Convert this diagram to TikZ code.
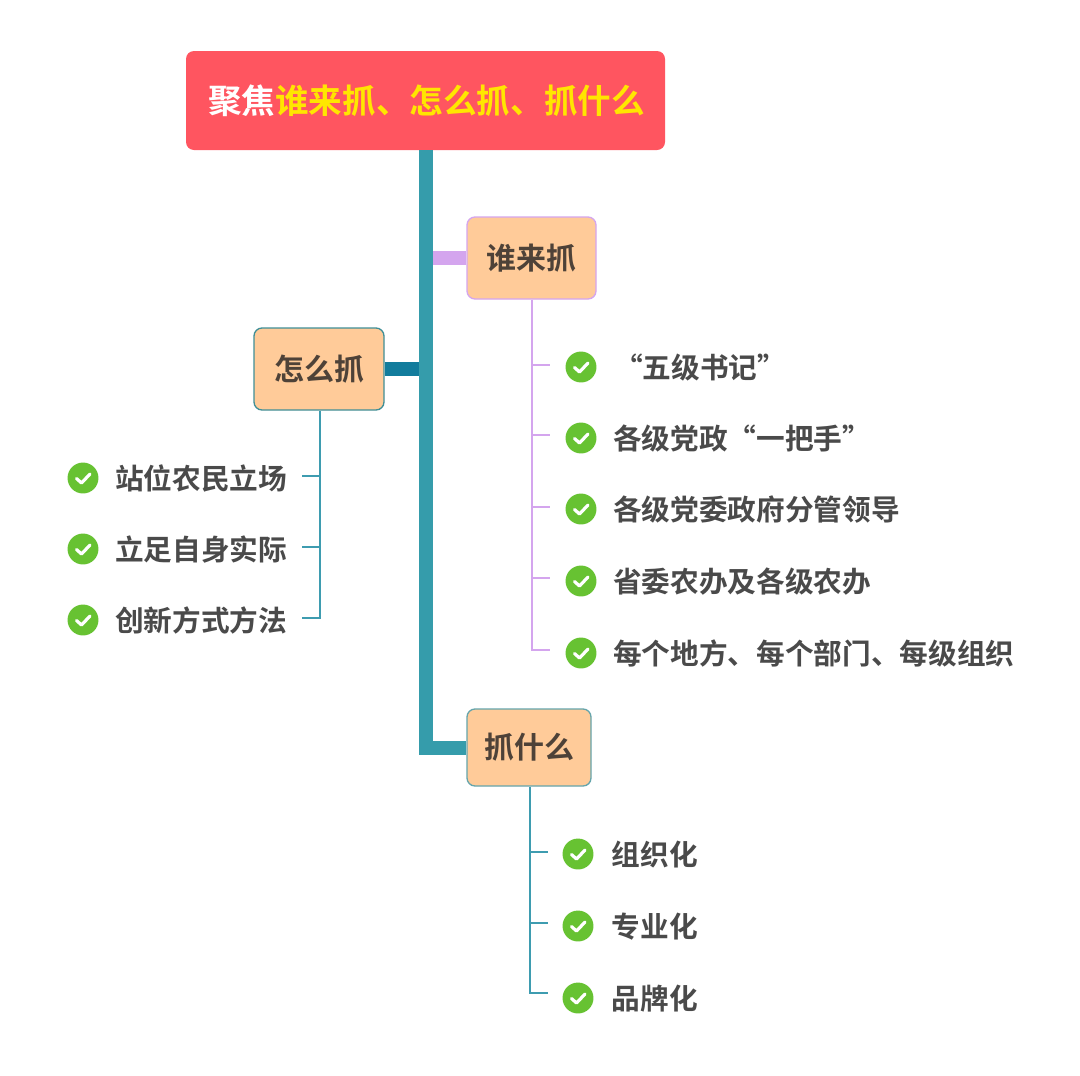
\documentclass[tikz,border=0pt]{standalone}
\usepackage{fontspec}
\setmainfont{Noto Sans CJK SC}[BoldFont={Noto Sans CJK SC Bold}]
\definecolor{titlered}{HTML}{FF5560}
\definecolor{titleyellow}{HTML}{FFE600}
\definecolor{peach}{HTML}{FFCB99}
\definecolor{inktext}{HTML}{4A4A4A}
\definecolor{nodetext}{HTML}{4E4238}
\definecolor{trunkteal}{HTML}{359CAB}
\definecolor{darkteal}{HTML}{127C9C}
\definecolor{lilac}{HTML}{D4A5EE}
\definecolor{thinteal}{HTML}{3E9CB0}
\definecolor{boxteal}{HTML}{3F8F97}
\definecolor{checkgreen}{HTML}{67C232}
\tikzset{
  titlebox/.style={fill=titlered,rounded corners=6pt,minimum width=359.25pt,minimum height=74.25pt,inner sep=0pt,font=\bfseries\fontsize{25.2pt}{28pt}\selectfont},
  branchbox/.style={fill=peach,rounded corners=6pt,line width=1pt,inner sep=0pt,text=nodetext,font=\bfseries\fontsize{22.5pt}{25pt}\selectfont},
  leaf/.style={anchor=west,inner sep=0pt,text=inktext,font=\bfseries\fontsize{21.5pt}{24pt}\selectfont},
  okicon/.style={circle,fill=checkgreen,minimum size=23.2pt,inner sep=0pt,
    path picture={\draw[white,line width=2.4pt,line cap=round,line join=round]
      ([shift={(-6.5,0.5)}]path picture bounding box.center) --
      ([shift={(-1.5,5)}]path picture bounding box.center) --
      ([shift={(7,-4)}]path picture bounding box.center);}},
  thick trunk/.style={line width=10.5pt},
  stub/.style={line width=10pt},
  thin lilac/.style={draw=lilac,line width=1.1pt},
  thin teal/.style={draw=thinteal,line width=1.1pt},
}
\newcommand{\leafitem}[5]{%
  \node[okicon] (i#1) at (#2,#3) {};
  \node[leaf] (l#1) at (#4,#3+0.5) {#5};
}
\begin{document}
\begin{tikzpicture}[x=0.75pt,y=-0.75pt]
\useasboundingbox[fill=white] (0,0) rectangle (1080,1075);

\node[titlebox] (title) at (425.5,100.5) {\hspace{1.5pt}\textcolor{white}{聚焦}\textcolor{titleyellow}{谁来抓、怎么抓、抓什么}};

% trunk and branches (drawn beneath the boxes)
\coordinate (trunktop) at (426,150);
\node[branchbox,draw=lilac,minimum width=96.75pt,minimum height=61.5pt] (who) at (531.5,258) {谁来抓};
\node[branchbox,draw=boxteal,minimum width=97.5pt,minimum height=61.5pt] (how) at (319,369) {怎么抓};
\node[branchbox,draw=boxteal!80!white,minimum width=93pt,minimum height=57.75pt] (what) at (529,747.5) {抓什么};
\draw[lilac,stub] (who.west) -- (who.west -| trunktop);
\draw[darkteal,stub] (how.east) -- (how.east -| 419,0);
\draw[trunkteal,thick trunk,line join=miter] (title.south -| trunktop) |- (what.west);

% who leaves
\coordinate (w1) at (550,365);
\coordinate (w2) at (550,435);
\coordinate (w3) at (550,507);
\coordinate (w4) at (550,578);
\coordinate (w5) at (550,650);
\draw[thin lilac] (who.south -| 532,0) |- (w5);
\foreach \c in {w1,w2,w3,w4}{\draw[thin lilac] (532,0 |- \c) -- (\c);}
\leafitem{w1}{581}{367}{614}{“五级书记”}
\leafitem{w2}{581}{438}{613}{各级党政“一把手”}
\leafitem{w3}{581}{509}{613}{各级党委政府分管领导}
\leafitem{w4}{581}{581}{613}{省委农办及各级农办}
\leafitem{w5}{581}{653}{613}{每个地方、每个部门、每级组织}

% how leaves
\coordinate (h1) at (302,476);
\coordinate (h2) at (302,547);
\coordinate (h3) at (302,618);
\draw[thin teal] (how.south -| 320,0) |- (h3);
\foreach \c in {h1,h2}{\draw[thin teal] (320,0 |- \c) -- (\c);}
\leafitem{h1}{83}{478}{115}{站位农民立场}
\leafitem{h2}{83}{549}{115}{立足自身实际}
\leafitem{h3}{83}{620}{115}{创新方式方法}

% what leaves
\coordinate (a1) at (548,852);
\coordinate (a2) at (548,923);
\coordinate (a3) at (548,993);
\draw[thin teal] (what.south -| 530,0) |- (a3);
\foreach \c in {a1,a2}{\draw[thin teal] (530,0 |- \c) -- (\c);}
\leafitem{a1}{578}{854}{611.5}{组织化}
\leafitem{a2}{578}{926}{611.5}{专业化}
\leafitem{a3}{578}{998}{611.5}{品牌化}
\end{tikzpicture}
\end{document}
